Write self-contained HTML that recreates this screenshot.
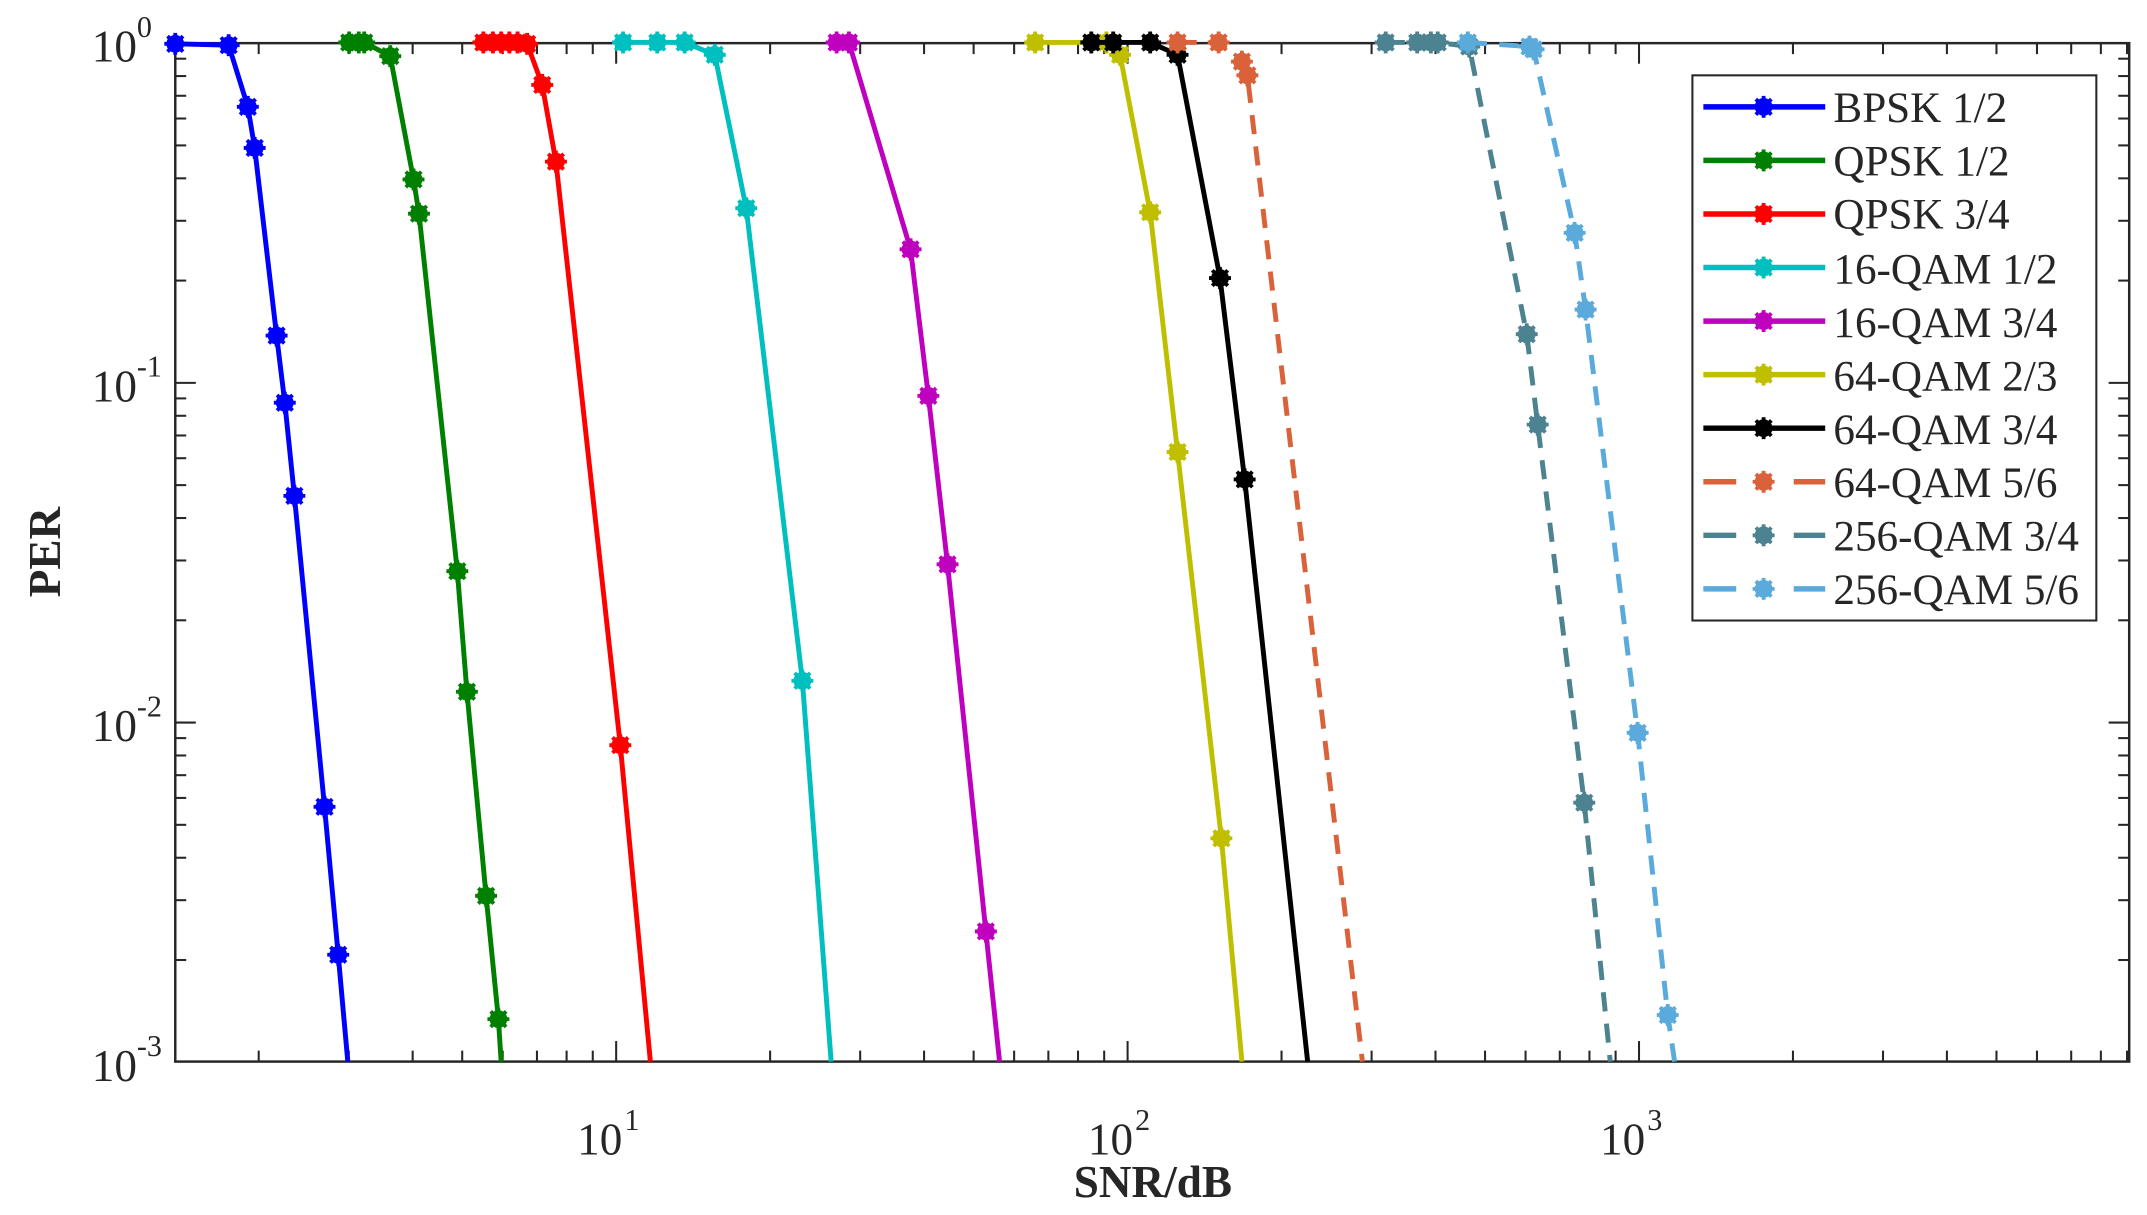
<!DOCTYPE html>
<html><head><meta charset="utf-8"><style>
html,body{margin:0;padding:0;background:#fff;}
svg{display:block;}
text{font-family:"Liberation Serif",serif;fill:#262626;}
</style></head><body>
<svg id="s" width="2147" height="1215" viewBox="0 0 1568 887" preserveAspectRatio="none" xmlns="http://www.w3.org/2000/svg">
<g id="ticks" stroke="#262626" stroke-width="1.5"></g>
<rect x="128" y="31.5" width="1427" height="743.5" fill="none" stroke="#262626" stroke-width="1.8"/>
<g id="series"></g>
<g font-size="33">
<text x="100" y="45" text-anchor="end">10</text><text x="100" y="27" font-size="22">0</text>
<text x="100" y="293" text-anchor="end">10</text><text x="100" y="275" font-size="22">-1</text>
<text x="100" y="541" text-anchor="end">10</text><text x="100" y="523" font-size="22">-2</text>
<text x="100" y="789" text-anchor="end">10</text><text x="100" y="771" font-size="22">-3</text>
<text x="438" y="843" text-anchor="middle">10</text><text x="456" y="825" font-size="22">1</text>
<text x="811" y="843" text-anchor="middle">10</text><text x="829" y="825" font-size="22">2</text>
<text x="1185" y="843" text-anchor="middle">10</text><text x="1203" y="825" font-size="22">3</text>
</g>
<text x="842" y="874" text-anchor="middle" font-size="33" font-weight="bold">SNR/dB</text>
<text transform="translate(44,403) rotate(-90)" text-anchor="middle" font-size="33" font-weight="bold">PER</text>
<rect x="1236" y="55" width="295" height="398" fill="#fff" stroke="#262626" stroke-width="1.5"/>
<g id="legend" font-size="31.5">
<text x="1339" y="89" fill="#000">BPSK 1/2</text>
<text x="1339" y="128" fill="#000">QPSK 1/2</text>
<text x="1339" y="167" fill="#000">QPSK 3/4</text>
<text x="1339" y="207" fill="#000">16-QAM 1/2</text>
<text x="1339" y="246" fill="#000">16-QAM 3/4</text>
<text x="1339" y="285" fill="#000">64-QAM 2/3</text>
<text x="1339" y="324" fill="#000">64-QAM 3/4</text>
<text x="1339" y="363" fill="#000">64-QAM 5/6</text>
<text x="1339" y="402" fill="#000">256-QAM 3/4</text>
<text x="1339" y="441" fill="#000">256-QAM 5/6</text>
</g>
</svg>
<script>
var NS="http://www.w3.org/2000/svg";
function el(p,t,a){var e=document.createElementNS(NS,t);for(var k in a)e.setAttribute(k,a[k]);p.appendChild(e);return e;}
var T=document.getElementById('ticks');
var L=128,R=1555,Tp=31.5,B=775;
function X(v){return 450+373.5*(Math.log10(v)-1);}
function Y(p){return 31.5-248*Math.log10(p);}
for(var d=0;d<=3;d++){for(var m=1;m<10;m++){var v=m*Math.pow(10,d);var x=X(v);if(x<L+1||x>R-1)continue;var len=m==1?15:8;
el(T,'line',{x1:x,y1:B,x2:x,y2:B-len});el(T,'line',{x1:x,y1:Tp,x2:x,y2:Tp+len});}}
for(var d=-3;d<0;d++){for(var m=1;m<10;m++){var p=m*Math.pow(10,d);var y=Y(p);if(y<Tp+1||y>B-1)continue;var len=m==1?15:8;
el(T,'line',{x1:L,y1:y,x2:L+len,y2:y});el(T,'line',{x1:R,y1:y,x2:R-len,y2:y});}}
var S=[
['#0000ff',0,[[128,32],[167,33],[181,78],[186,108],[202,245],[208,294],[215,362],[237,589],[247,697],[254,775,1]]],
['#008000',0,[[255,31],[262,31],[266,31],[285,41],[302,131],[306,156],[334,417],[341,505],[355,654],[364,744],[366,775,1]]],
['#ff0000',0,[[353,31],[360,31],[366,31],[372,31],[378,31],[385,32],[396,62],[406,118],[453,544],[475,775,1]]],
['#00bfbf',0,[[455,31],[480,31],[500,31],[522,40],[545,152],[586,497],[607,775,1]]],
['#bf00bf',0,[[611,31],[620,31],[665,182],[678,289],[692,412],[720,680],[730,775,1]]],
['#bfbf00',0,[[756,31],[808,31],[818,40],[840,155],[860,330],[892,612],[907,775,1]]],
['#000000',0,[[797,31],[813,31],[840,31],[860,40],[891,203],[909,350],[955,775,1]]],
['#d9623a',1,[[860,31],[890,31],[907,45],[911,55],[995,775,1]]],
['#4d8290',1,[[1012,31],[1035,31],[1045,31],[1050,31],[1073,34],[1115,244],[1123,310],[1157,586],[1176,775,1]]],
['#5aaadc',1,[[1072,31],[1117,34],[1120,36],[1150,170],[1158,226],[1196,535],[1218,741],[1223,775,1]]]
];
var G=document.getElementById('series'),LG=document.getElementById('legend');
function marker(g,x,y,c){el(g,'circle',{cx:x,cy:y,r:6.5,fill:c});
for(var a=0;a<4;a++){var an=a*Math.PI/4;el(g,'line',{x1:x-8*Math.cos(an),y1:y-8*Math.sin(an),x2:x+8*Math.cos(an),y2:y+8*Math.sin(an),stroke:c,'stroke-width':2.8});}}
S.forEach(function(s,i){var c=s[0],dash=s[1],pts=s[2];
var a={points:pts.map(function(p){return p[0]+','+p[1]}).join(' '),fill:'none',stroke:c,'stroke-width':3.6,'stroke-linejoin':'round'};
if(dash)a['stroke-dasharray']='14,9';
el(G,'polyline',a);
pts.forEach(function(p){if(!p[2])marker(G,p[0],p[1],c);});
var ly=78+i*39.1;
if(dash){el(LG,'line',{x1:1244,y1:ly,x2:1268,y2:ly,stroke:c,'stroke-width':4});el(LG,'line',{x1:1310,y1:ly,x2:1333,y2:ly,stroke:c,'stroke-width':4});}
else el(LG,'line',{x1:1244,y1:ly,x2:1333,y2:ly,stroke:c,'stroke-width':4});
marker(LG,1288,ly,c);
});
</script>
</body></html>
